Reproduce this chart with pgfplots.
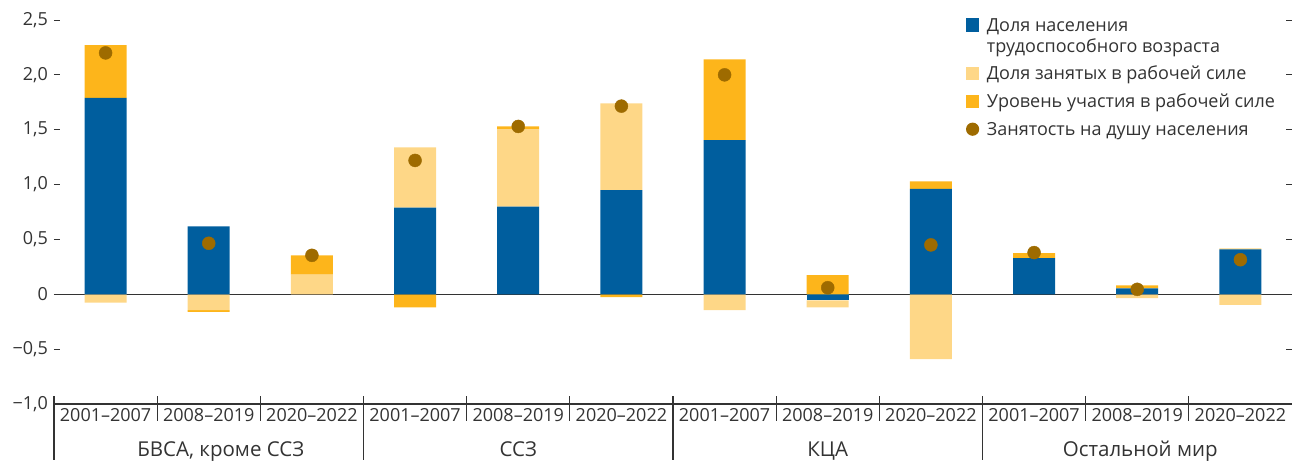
\documentclass[border=0pt]{standalone}
\usepackage{fontspec}
\setmainfont{Open Sans}
\usepackage{pgfplots}
\pgfplotsset{compat=1.18}
\definecolor{popblue}{HTML}{005E9E}
\definecolor{emplight}{HTML}{FED787}
\definecolor{partorange}{HTML}{FDB51B}
\definecolor{dotbrown}{HTML}{9E6B00}
\definecolor{txt}{HTML}{333333}

\begin{document}
\fontsize{18bp}{25bp}\selectfont
\color{txt}
\begin{tikzpicture}[group/.style={anchor=base, font=\fontsize{20.5bp}{25bp}\selectfont}]
\begin{axis}[
  scale only axis,
  width=1238bp, height=384bp,
  xmin=-0.5, xmax=11.5,
  ymin=-1, ymax=2.5,
  ybar stacked,
  bar width=42bp,
  axis line style={draw=none},
  xtick={0,...,11},
  xticklabels={2001–2007,2008–2019,2020–2022,2001–2007,2008–2019,2020–2022,
               2001–2007,2008–2019,2020–2022,2001–2007,2008–2019,2020–2022},
  xticklabel style={anchor=base, yshift=-17bp},
  major x tick style={draw=none},
  ytick={-1,-0.5,0,0.5,1,1.5,2,2.5},
  yticklabels={{−1,0},{−0,5},0,{0,5},{1,0},{1,5},{2,0},{2,5}},
  ytick style={draw=txt, line width=0.9bp},
  major tick length=6bp,
  tick align=inside,
  clip=false,
]
% positive parts (negatives are stacked separately by pgfplots)
\addplot[fill=popblue, draw=none] coordinates {
  (0,1.79) (1,0.62) (2,0) (3,0.79) (4,0.80) (5,0.95)
  (6,1.405) (7,0) (8,0.96) (9,0.33) (10,0.055) (11,0.41)};
\addplot[fill=emplight, draw=none] coordinates {
  (0,0) (1,0) (2,0.18) (3,0.55) (4,0.705) (5,0.79)
  (6,0) (7,0) (8,0) (9,0) (10,0) (11,0)};
\addplot[fill=partorange, draw=none] coordinates {
  (0,0.48) (1,0) (2,0.175) (3,0) (4,0.025) (5,0)
  (6,0.735) (7,0.175) (8,0.07) (9,0.045) (10,0.027) (11,0.006)};
% negative parts
\addplot[fill=popblue, draw=none] coordinates {
  (0,0) (1,0) (2,0) (3,0) (4,0) (5,0)
  (6,0) (7,-0.055) (8,0) (9,0) (10,0) (11,0)};
\addplot[fill=emplight, draw=none] coordinates {
  (0,-0.075) (1,-0.145) (2,0) (3,0) (4,0) (5,0)
  (6,-0.145) (7,-0.065) (8,-0.59) (9,0) (10,-0.034) (11,-0.097)};
\addplot[fill=partorange, draw=none] coordinates {
  (0,0) (1,-0.015) (2,0) (3,-0.12) (4,0) (5,-0.025)
  (6,0) (7,0) (8,0) (9,0) (10,0) (11,0)};
% zero line and bottom axis
\draw[txt, line width=1.4bp] (axis cs:-0.5,0) -- (axis cs:11.5,0);
\draw[txt, line width=1.2bp] (axis cs:-0.5,-1) -- (axis cs:11.5,-1);
% employment per capita
\addplot[sharp plot, stack plots=false, draw=none, mark=*, mark size=6.5bp,
  mark options={fill=dotbrown, draw=dotbrown}] coordinates {
  (0,2.20) (1,0.465) (2,0.355) (3,1.22) (4,1.53) (5,1.715)
  (6,2.00) (7,0.06) (8,0.45) (9,0.38) (10,0.045) (11,0.315)};
% separators below the axis
\pgfplotsinvokeforeach{0.5,1.5,3.5,4.5,6.5,7.5,9.5,10.5}{
  \draw[txt, line width=1.1bp] ([yshift=8bp]axis cs:#1,-1) -- ([yshift=-17bp]axis cs:#1,-1);
}
\pgfplotsinvokeforeach{-0.5,2.5,5.5,8.5}{
  \draw[txt, line width=1.1bp] ([yshift=8bp]axis cs:#1,-1) -- ([yshift=-56bp]axis cs:#1,-1);
}
% group names
\node[group] at ([xshift=12bp,yshift=-52bp]axis cs:1,-1) {БВСА, кроме ССЗ};
\node[group] at ([yshift=-52bp]axis cs:4,-1) {ССЗ};
\node[group] at ([yshift=-52bp]axis cs:7,-1) {КЦА};
\node[group] at ([xshift=3bp,yshift=-52bp]axis cs:10,-1) {Остальной мир};
\end{axis}
% legend
\fill[popblue] (912bp,372.3bp) rectangle ++(13.3bp,13.3bp);
\node[anchor=base west, inner sep=0pt] at (932.7bp,372.3bp) {Доля населения};
\node[anchor=base west, inner sep=0pt] at (932.7bp,351.3bp) {трудоспособного возраста};
\fill[emplight] (912bp,324bp) rectangle ++(13.3bp,13.3bp);
\node[anchor=base west, inner sep=0pt] at (932.7bp,324bp) {Доля занятых в рабочей силе};
\fill[partorange] (912bp,296bp) rectangle ++(13.3bp,13.3bp);
\node[anchor=base west, inner sep=0pt] at (932.7bp,296bp) {Уровень участия в рабочей силе};
\fill[dotbrown] (918.6bp,274.8bp) circle (6.6bp);
\node[anchor=base west, inner sep=0pt] at (932.7bp,268bp) {Занятость на душу населения};
\pgfresetboundingbox
\path[use as bounding box] (-54bp,-58bp) rectangle (1238bp,404bp);
\end{tikzpicture}
\end{document}
